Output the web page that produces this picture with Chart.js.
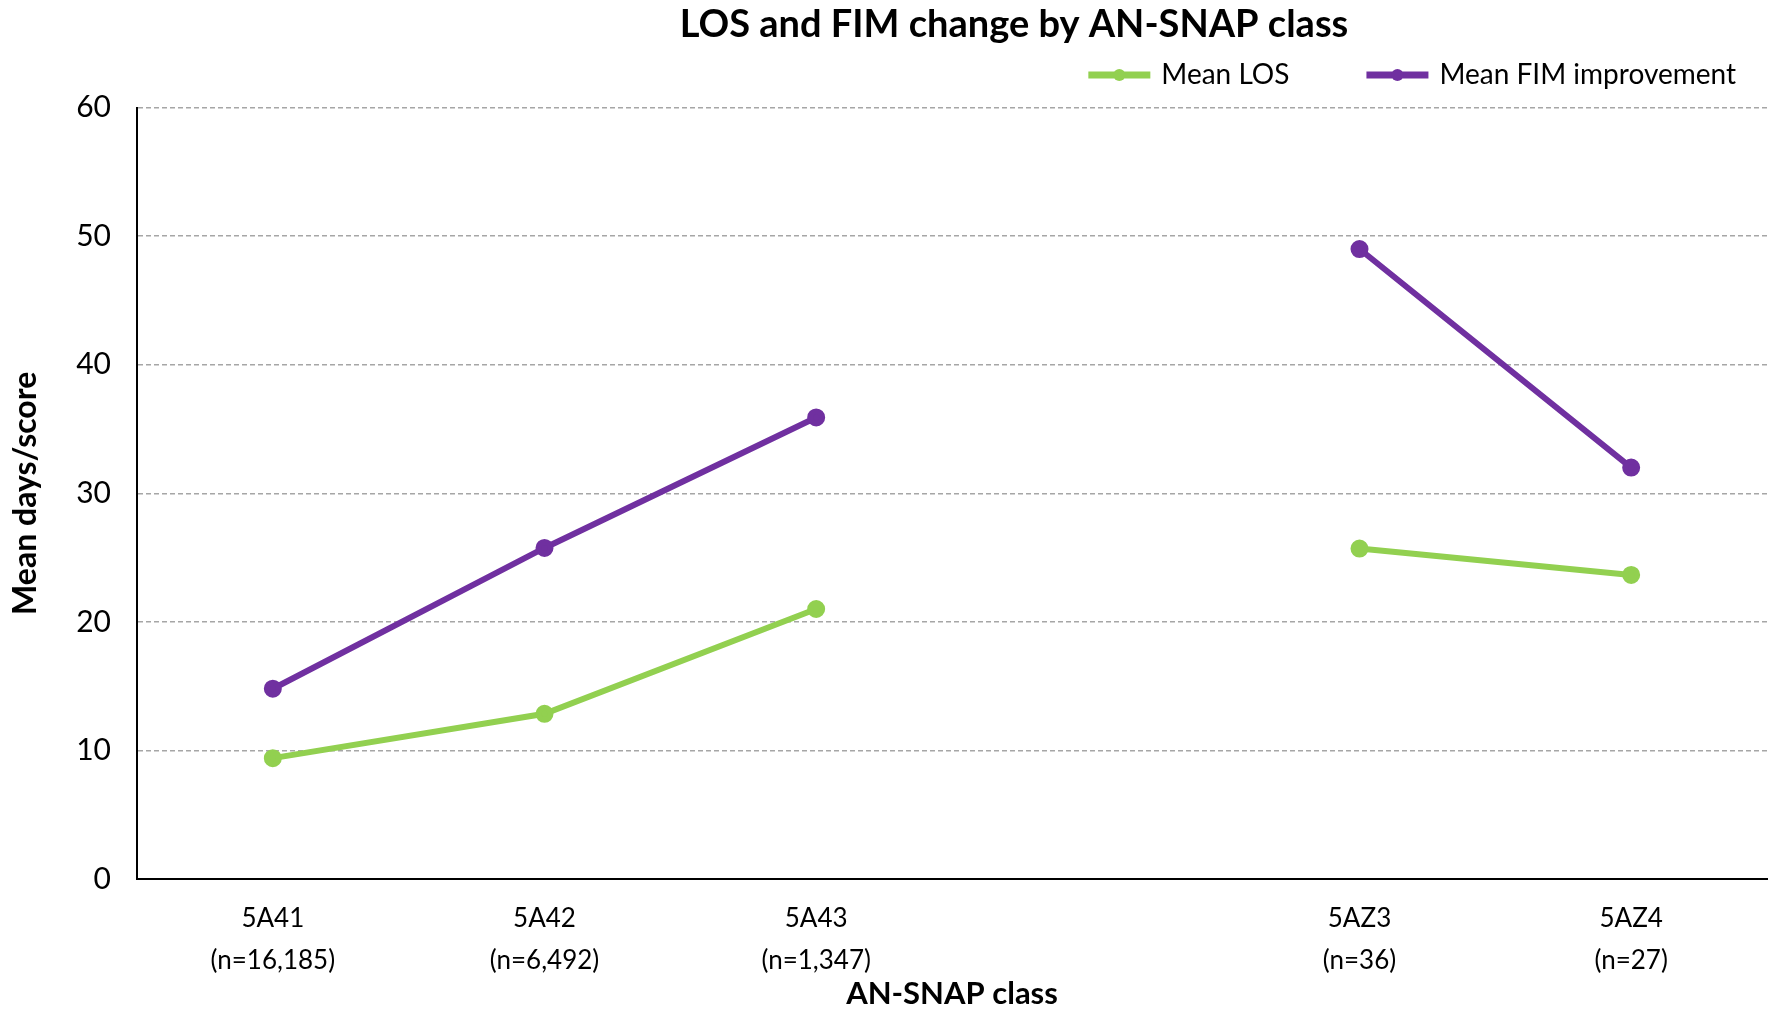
<!DOCTYPE html>
<html>
<head>
<meta charset="utf-8">
<title>LOS and FIM change by AN-SNAP class</title>
<script src="https://cdn.jsdelivr.net/npm/chart.js@4.4.1/dist/chart.umd.min.js"></script>
<style>
  html, body { margin: 0; padding: 0; background: #fff; }
  #wrap { width: 1779px; height: 1009px; }
</style>
</head>
<body>
<div id="wrap"><canvas id="losChart" width="1779" height="1009"></canvas></div>
<script>
// AN-SNAP classes (empty slot separates the two groups)
const classes = [
  ["5A41", "(n=16,185)"],
  ["5A42", "(n=6,492)"],
  ["5A43", "(n=1,347)"],
  "",
  ["5AZ3", "(n=36)"],
  ["5AZ4", "(n=27)"],
];
const meanLos = [9.4, 12.85, 21.0, null, 25.7, 23.65];
const meanFim = [14.8, 25.75, 35.9, null, 49.0, 32.0];
const yTicks = [0, 10, 20, 30, 40, 50, 60];

const GREEN = "#92D050";
const PURPLE = "#7030A0";
const FONT = "Lato, 'Open Sans', sans-serif";

// header placement: title centred a bit right of the canvas middle,
// legend pulled up and right so its wide item gap doesn't eat plot space
const TITLE_CENTER_X = 1014;
const LEGEND_TOP = -19;
const LEGEND_RIGHT = 1816;

const placeHeader = {
  id: "placeHeader",
  afterLayout(chart) {
    const t = chart.titleBlock;
    if (t) {
      const h = t.height;
      const half = Math.min(TITLE_CENTER_X, chart.width - TITLE_CENTER_X);
      t.left = TITLE_CENTER_X - half;
      t.right = TITLE_CENTER_X + half;
      t.width = half * 2;
      t.top = 0;
      t.bottom = h;
    }
    const lg = chart.legend;
    if (lg) {
      const h = lg.height;
      lg.top = LEGEND_TOP;
      lg.bottom = LEGEND_TOP + h;
      lg.left = 0;
      lg.right = LEGEND_RIGHT;
      lg.width = LEGEND_RIGHT;
    }
  },
};

// round marker in the middle of each legend line
const legendDots = {
  id: "legendDots",
  afterDraw(chart) {
    const legend = chart.legend;
    if (!legend || !legend.legendHitBoxes) return;
    const ctx = chart.ctx;
    const bw = legend.options.labels.boxWidth;
    legend.legendHitBoxes.forEach((box, i) => {
      const ds = chart.data.datasets[i];
      ctx.save();
      ctx.fillStyle = ds.borderColor;
      ctx.beginPath();
      ctx.arc(box.left + bw / 2, box.top + box.height / 2, 6, 0, Math.PI * 2);
      ctx.fill();
      ctx.restore();
    });
  },
};

new Chart(document.getElementById("losChart"), {
  type: "line",
  data: {
    labels: classes,
    datasets: [
      {
        label: "Mean LOS",
        data: meanLos,
        borderColor: GREEN,
        backgroundColor: GREEN,
        borderWidth: 6,
        pointRadius: 6,
        pointHoverRadius: 6,
        spanGaps: false,
      },
      {
        label: "Mean FIM improvement",
        data: meanFim,
        borderColor: PURPLE,
        backgroundColor: PURPLE,
        borderWidth: 6,
        pointRadius: 6,
        pointHoverRadius: 6,
        spanGaps: false,
      },
    ],
  },
  options: {
    responsive: false,
    animation: false,
    layout: { padding: { top: -58, right: 5, left: 0, bottom: 0 } },
    plugins: {
      title: {
        display: true,
        text: "LOS and FIM change by AN-SNAP class",
        color: "#000",
        font: { family: FONT, size: 38, weight: "bold" },
        padding: { top: 2, bottom: 0 },
      },
      legend: {
        display: true,
        position: "top",
        align: "end",
        labels: {
          color: "#000",
          font: { family: FONT, size: 28 },
          boxWidth: 56,
          boxHeight: 1,
          padding: 80,
        },
      },
      tooltip: { enabled: false },
    },
    scales: {
      x: {
        offset: true,
        grid: { display: false },
        border: { display: true, color: "#000", width: 2 },
        ticks: {
          color: "#000",
          font: { family: FONT, size: 26, lineHeight: 1.6 },
          padding: 11,
          maxRotation: 0,
          autoSkip: false,
        },
        title: {
          display: true,
          text: "AN-SNAP class",
          color: "#000",
          font: { family: FONT, size: 31, weight: "bold", lineHeight: 1 },
          padding: { top: 0, bottom: 0 },
        },
        afterFit(scale) { scale.height = 130; },
      },
      y: {
        min: 0,
        max: 60,
        afterBuildTicks(scale) { scale.ticks = yTicks.map(v => ({ value: v })); },
        grid: {
          color: "#A6A6A6",
          lineWidth: 1.5,
          drawTicks: false,
        },
        border: { display: true, color: "#000", width: 2, dash: [5, 3] },
        ticks: {
          color: "#000",
          font: { family: FONT, size: 30 },
          padding: 26,
        },
        title: {
          display: true,
          text: "Mean days/score",
          color: "#000",
          font: { family: FONT, size: 32, weight: "bold" },
          padding: { top: 6, bottom: 0 },
        },
        afterFit(scale) { scale.width = 137; },
      },
    },
  },
  plugins: [placeHeader, legendDots],
});
</script>
</body>
</html>
